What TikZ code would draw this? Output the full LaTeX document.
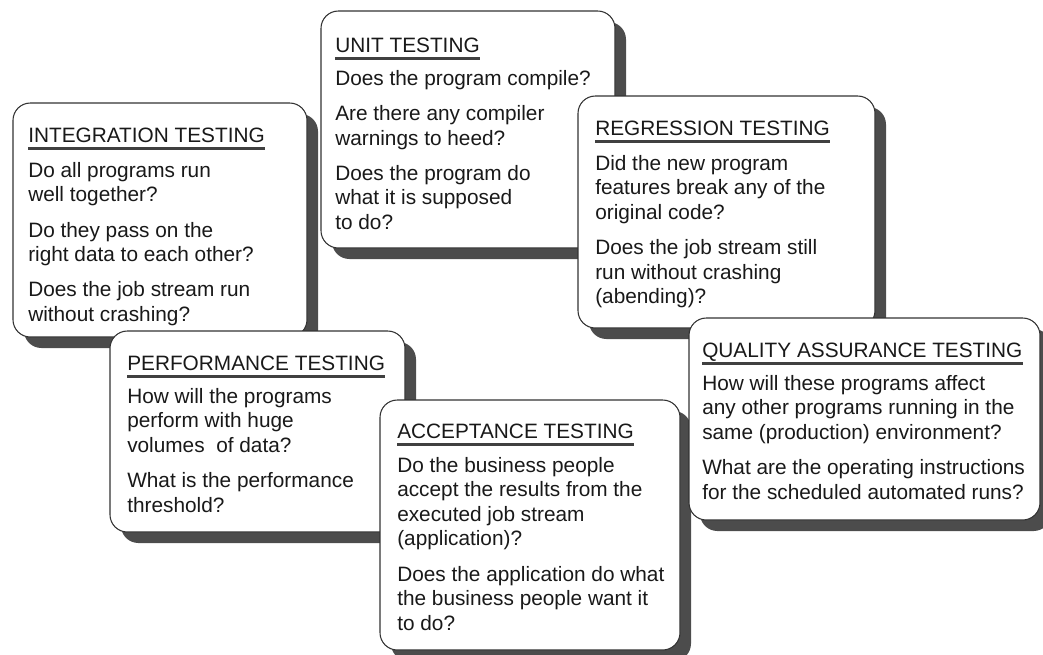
\documentclass[tikz,border=0pt]{standalone}
\usepackage{fontspec}
\setmainfont{Liberation Sans}
\usepackage{tikz}
\usetikzlibrary{fit,shadows}

\tikzset{
    testbox/.style={draw=black!80, line width=0.8pt, fill=white, rounded corners=13pt, inner sep=0pt,
        drop shadow={shadow xshift=8.25pt, shadow yshift=-8.25pt, fill=black!70, opacity=1}},
    boxtitle/.style={anchor=base west, inner sep=0pt, text=black!90, font=\fontsize{15.6}{18}\selectfont},
    boxbody/.style={anchor=north west, inner sep=0pt, align=left, text=black!90, font=\fontsize{15.6}{18.4}\selectfont},
    uline/.style={draw=black!75, line width=1.8pt}
}
\newcommand{\pgap}{\\[8pt]}

\begin{document}
\begin{tikzpicture}[x=0.75pt, y=-0.75pt]
\useasboundingbox (0,0) rectangle (1043,654);

% Integration
\node[testbox, fit={(13,103) (307,337)}] (integ) {};
\node[boxtitle] (integ-t) at (28,142) {INTEGRATION TESTING};
\draw[uline] ([yshift=-5pt]integ-t.base west) -- ([yshift=-5pt]integ-t.base east);
\node[boxbody] (integ-b) at (28,162) {Do all programs run\\well together?\pgap
    Do they pass on the\\right data to each other?\pgap
    Does the job stream run\\without crashing?};

% Unit
\node[testbox, fit={(321,11) (615,248)}] (unit) {};
\node[boxtitle] (unit-t) at (335,52) {UNIT TESTING};
\draw[uline] ([yshift=-5pt]unit-t.base west) -- ([yshift=-5pt]unit-t.base east);
\node[boxbody] (unit-b) at (335,70) {Does the program compile?\pgap
    Are there any compiler\\warnings to heed?\pgap
    Does the program do\\what it is supposed\\to do?};

% Regression
\node[testbox, fit={(578,96) (875,328)}] (regr) {};
\node[boxtitle] (regr-t) at (595,135) {REGRESSION TESTING};
\draw[uline] ([yshift=-5pt]regr-t.base west) -- ([yshift=-5pt]regr-t.base east);
\node[boxbody] (regr-b) at (595,155) {Did the new program\\features break any of the\\original code?\pgap
    Does the job stream still\\run without crashing\\(abending)?};

% Performance
\node[testbox, fit={(110,331) (405,532)}] (perf) {};
\node[boxtitle] (perf-t) at (127,370) {PERFORMANCE TESTING};
\draw[uline] ([yshift=-5pt]perf-t.base west) -- ([yshift=-5pt]perf-t.base east);
\node[boxbody] (perf-b) at (127,388) {How will the programs\\perform with huge\\volumes\ \ of data?\pgap
    What is the performance\\threshold?};

% Acceptance
\node[testbox, fit={(380,400) (680,650)}] (accept) {};
\node[boxtitle] (accept-t) at (397,438) {ACCEPTANCE TESTING};
\draw[uline] ([yshift=-5pt]accept-t.base west) -- ([yshift=-5pt]accept-t.base east);
\node[boxbody] (accept-b) at (397,457) {Do the business people\\accept the results from the\\executed job stream\\(application)?\pgap
    Does the application do what\\the business people want it\\to do?};

% Quality assurance
\node[testbox, fit={(689,318) (1040,520)}] (qa) {};
\node[boxtitle] (qa-t) at (702,357) {QUALITY ASSURANCE TESTING};
\draw[uline] ([yshift=-5pt]qa-t.base west) -- ([yshift=-5pt]qa-t.base east);
\node[boxbody] (qa-b) at (702,375) {How will these programs affect\\any other programs running in the\\same (production) environment?\pgap
    What are the operating instructions\\for the scheduled automated runs?};

\end{tikzpicture}
\end{document}
